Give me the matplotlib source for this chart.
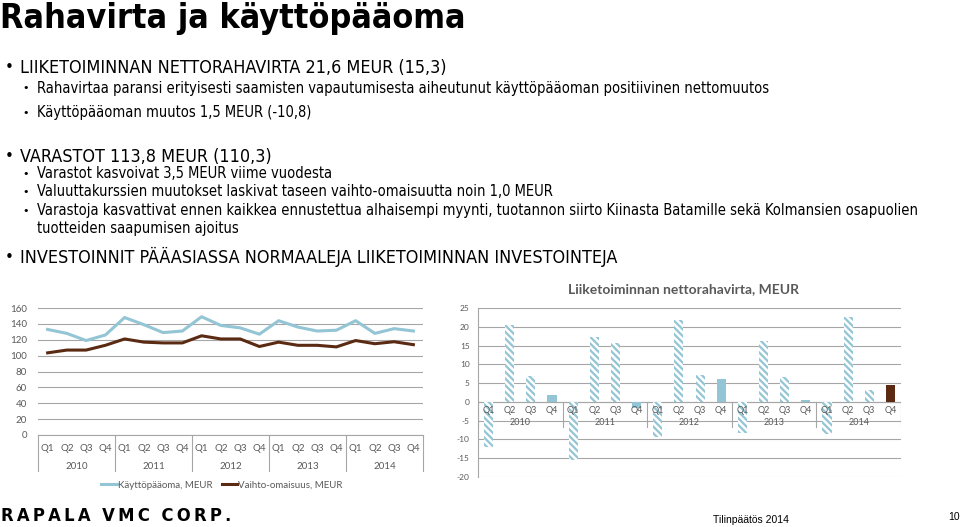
import matplotlib.pyplot as plt
import matplotlib.transforms as mtransforms
from matplotlib.lines import Line2D
import numpy as np

plt.rcParams["axes.unicode_minus"] = False

# data
years = ["2010", "2011", "2012", "2013", "2014"]
quarters = ["Q1", "Q2", "Q3", "Q4"]
kayttopaaoma = [133, 128, 119, 126, 148, 139, 129, 131, 149, 138, 135, 127,
                144, 136, 131, 132, 144, 128, 134, 131]
vaihto_omaisuus = [103.5, 107, 107, 113, 121, 117, 116, 116, 125, 121, 121, 111.5,
                   117, 113, 113, 111, 119, 115, 117.5, 113.8]
rahavirta = [-12.0, 20.4, 7.0, 1.9, -15.6, 17.2, 15.6, -1.6,
             -9.4, 21.7, 7.2, 6.0, -8.2, 16.3, 6.7, 0.6,
             -8.5, 22.6, 3.1, 4.6]

LIGHT = "#93c5d5"
BROWN = "#5b2a12"
GRID = "#a6a6a6"
TXT = "#595959"
narrow = ["Liberation Sans Narrow", "DejaVu Sans"]
chartfont = ["Lato", "DejaVu Sans"]

fig = plt.figure(figsize=(9.6, 5.27), dpi=100)
W, H = 960.0, 527.0
renderer = fig.canvas.get_renderer()


def fit(texts, key, target_px, maxsize=None):
    # scale font so that the key text gets the reference width
    w = key.get_window_extent(renderer).width
    k = target_px / w
    for t in texts:
        s = t.get_fontsize() * k
        if maxsize:
            s = min(s, maxsize)
        t.set_fontsize(s)


# slide text
title = fig.text(0.0, 1 - 28 / H, "Rahavirta ja käyttöpääoma", family=narrow,
                 fontstretch="condensed", fontsize=25, fontweight="bold",
                 va="baseline", ha="left")
fit([title], title, 468, maxsize=26)

bullets = [
    (1, 68, "LIIKETOIMINNAN NETTORAHAVIRTA 21,6 MEUR (15,3)"),
    (2, 88, "Rahavirtaa paransi erityisesti saamisten vapautumisesta aiheutunut käyttöpääoman positiivinen nettomuutos"),
    (2, 113, "Käyttöpääoman muutos 1,5 MEUR (-10,8)"),
    (1, 157, "VARASTOT 113,8 MEUR (110,3)"),
    (2, 174, "Varastot kasvoivat 3,5 MEUR viime vuodesta"),
    (2, 192, "Valuuttakurssien muutokset laskivat taseen vaihto-omaisuutta noin 1,0 MEUR"),
    (2, 211, "Varastoja kasvattivat ennen kaikkea ennustettua alhaisempi myynti, tuotannon siirto Kiinasta Batamille sekä Kolmansien osapuolien"),
    (0, 229, "tuotteiden saapumisen ajoitus"),
    (1, 257, "INVESTOINNIT PÄÄASIASSA NORMAALEJA LIIKETOIMINNAN INVESTOINTEJA"),
]
lvl1, lvl2 = [], []
for lvl, ypx, s in bullets:
    yf = 1 - ypx / H
    if lvl == 1:
        fig.text(5 / W, yf, "•", family=narrow, fontsize=11, va="center")
        lvl1.append(fig.text(20 / W, yf, s, family=narrow, fontstretch="condensed",
                             fontsize=14, va="center"))
    else:
        if lvl == 2:
            fig.text(22 / W, yf, "•", family=narrow, fontsize=8, va="center")
        lvl2.append(fig.text(37 / W, yf, s, family=narrow, fontstretch="condensed",
                             fontsize=11, va="center"))
fit(lvl1, lvl1[-1], 598)
fit(lvl2, lvl2[0], 731)

logo_txt = "\u2009".join("RAPALA") + "  " + "\u2009".join("VMC") + "  " + "\u2009".join("CORP.")
logo = fig.text(1 / W, 1 - 521 / H, logo_txt, family=narrow,
                fontstretch="condensed", fontsize=15, fontweight="bold",
                va="baseline", ha="left")
fit([logo], logo, 230, maxsize=19)
fig.text(713 / W, 1 - 520 / H, "Tilinpäätös 2014", family=["Liberation Sans", "DejaVu Sans"],
         fontsize=7.5, va="center")
fig.text(948 / W, 1 - 517 / H, "10", family=["Liberation Sans", "DejaVu Sans"],
         fontsize=7.5, va="center")

cats = [q for y in years for q in quarters]
x = np.arange(len(cats))

# left: line chart
ax1 = fig.add_axes([38 / W, 92 / H, 385 / W, 127 / H])
ax1.plot(x, kayttopaaoma, color=LIGHT, lw=2.2, label="Käyttöpääoma, MEUR")
ax1.plot(x, vaihto_omaisuus, color=BROWN, lw=2.2, label="Vaihto-omaisuus, MEUR")
ax1.set_xlim(-0.5, len(cats) - 0.5)
ax1.set_ylim(0, 160)
ax1.set_yticks(range(0, 161, 20))
ax1.yaxis.grid(True, color=GRID, lw=0.8)
ax1.set_axisbelow(True)
for sp in ["top", "right", "left"]:
    ax1.spines[sp].set_visible(False)
ax1.spines["bottom"].set_color(GRID)
ax1.tick_params(axis="y", length=0, labelsize=7, labelcolor=TXT, pad=8)
ax1.tick_params(axis="x", length=0, labelbottom=False)
for t in ax1.get_yticklabels():
    t.set_family(chartfont)
tr1 = mtransforms.blended_transform_factory(ax1.transData, ax1.transAxes)
for i, c in enumerate(cats):
    ax1.text(i, -0.105, c, transform=tr1, ha="center", va="center", fontsize=7,
             color=TXT, family=chartfont)
for j, yr in enumerate(years):
    ax1.text(j * 4 + 1.5, -0.245, yr, transform=tr1, ha="center", va="center",
             fontsize=7, color=TXT, family=chartfont)
for j in range(len(years) + 1):
    ax1.plot([j * 4 - 0.5] * 2, [0, -0.28], transform=tr1, color=GRID, lw=0.8,
             clip_on=False)
leg = fig.legend(handles=[Line2D([], [], color=LIGHT, lw=2.2),
                          Line2D([], [], color=BROWN, lw=2.2)],
                 labels=["Käyttöpääoma, MEUR", "Vaihto-omaisuus, MEUR"],
                 loc="center", bbox_to_anchor=(222 / W, 1 - 485 / H), ncol=2,
                 frameon=False, handlelength=1.6, handletextpad=0.1,
                 columnspacing=1.0, prop={"family": chartfont, "size": 7})
for t in leg.get_texts():
    t.set_color(TXT)

# right: bar chart
ax2 = fig.add_axes([478 / W, 50 / H, 423 / W, 169 / H])
plt.rcParams["hatch.linewidth"] = 1.6
for i, v in enumerate(rahavirta):
    q = i % 4
    if q < 3:
        ax2.bar(i, v, width=0.43, facecolor="white", edgecolor=LIGHT, lw=0,
                hatch="\\\\\\\\\\", zorder=2)
    elif i == len(rahavirta) - 1:
        ax2.bar(i, v, width=0.43, color=BROWN, zorder=2)
    else:
        ax2.bar(i, v, width=0.43, color=LIGHT, zorder=2)
ax2.set_xlim(-0.5, len(cats) - 0.5)
ax2.set_ylim(-20, 25)
ax2.set_yticks(range(-20, 26, 5))
ax2.yaxis.grid(True, color=GRID, lw=0.8)
ax2.get_ygridlines()[0].set_color("#d9d9d9")
ax2.set_axisbelow(True)
for sp in ["top", "right", "bottom"]:
    ax2.spines[sp].set_visible(False)
ax2.spines["left"].set_color(GRID)
ax2.axhline(0, color=GRID, lw=0.8, zorder=1)
ax2.tick_params(axis="y", length=0, labelsize=6, labelcolor=TXT, pad=6)
ax2.tick_params(axis="x", length=0, labelbottom=False)
for t in ax2.get_yticklabels():
    t.set_family(chartfont)
for i, c in enumerate(cats):
    ax2.text(i, -2.4, c, ha="center", va="center", fontsize=6.5, color=TXT,
             family=chartfont, zorder=3)
for j, yr in enumerate(years):
    ax2.text(j * 4 + 1.5, -5.6, yr, ha="center", va="center", fontsize=6.5,
             color=TXT, family=chartfont, zorder=3)
for j in range(len(years) + 1):
    ax2.plot([j * 4 - 0.5] * 2, [0, -6.6], color=GRID, lw=0.8, zorder=1)
fig.text(683 / W, 1 - 289 / H, "Liiketoiminnan nettorahavirta, MEUR",
         family=chartfont, fontsize=10, fontweight="bold", color=TXT,
         ha="center", va="center")

fig.savefig("out.png", dpi=100)
